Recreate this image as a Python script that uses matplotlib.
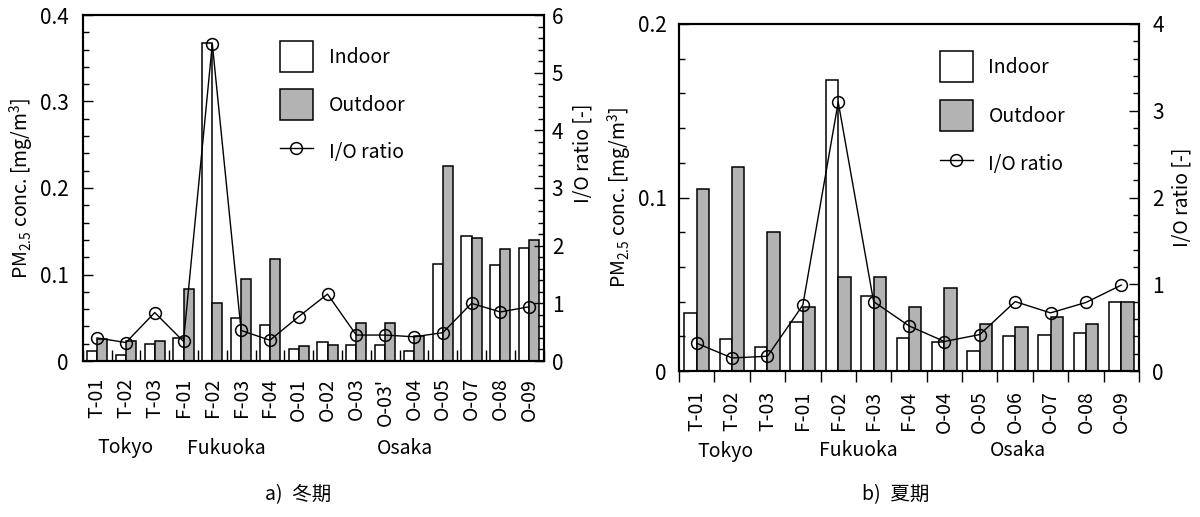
import numpy as np
import matplotlib
matplotlib.use('Agg')
import matplotlib.pyplot as plt
import matplotlib.transforms as mtransforms
from matplotlib.patches import Patch
from matplotlib.lines import Line2D
from matplotlib.ticker import MultipleLocator, FixedLocator, NullFormatter, FixedFormatter

plt.rcParams['font.family'] = ['Noto Sans CJK JP', 'DejaVu Sans']
plt.rcParams['mathtext.fontset'] = 'custom'
plt.rcParams['mathtext.rm'] = 'Noto Sans CJK JP'
plt.rcParams['mathtext.it'] = 'Noto Sans CJK JP'
plt.rcParams['mathtext.default'] = 'rm'

# winter (a)
winter_sites = ['T-01', 'T-02', 'T-03', 'F-01', 'F-02', 'F-03', 'F-04', 'O-01', 'O-02',
                'O-03', "O-03'", 'O-04', 'O-05', 'O-07', 'O-08', 'O-09']
winter_indoor = [0.011, 0.007, 0.020, 0.027, 0.368, 0.050, 0.042, 0.0135, 0.022,
                 0.019, 0.019, 0.012, 0.112, 0.144, 0.111, 0.131]
winter_outdoor = [0.025, 0.023, 0.023, 0.083, 0.067, 0.095, 0.118, 0.017, 0.019,
                  0.044, 0.044, 0.029, 0.225, 0.142, 0.129, 0.140]
winter_ratio = [0.40, 0.32, 0.84, 0.34, 5.50, 0.53, 0.36, 0.77, 1.16,
                0.45, 0.45, 0.42, 0.49, 1.00, 0.85, 0.94]
winter_groups = [('Tokyo', 1.0), ('Fukuoka', 4.5), ('Osaka', 10.7)]

# summer (b)
summer_sites = ['T-01', 'T-02', 'T-03', 'F-01', 'F-02', 'F-03', 'F-04', 'O-04', 'O-05',
                'O-06', 'O-07', 'O-08', 'O-09']
summer_indoor = [0.0333, 0.0187, 0.0139, 0.028, 0.1676, 0.0434, 0.019, 0.0166, 0.0116,
                 0.0204, 0.021, 0.0218, 0.040]
summer_outdoor = [0.105, 0.1175, 0.080, 0.0368, 0.054, 0.054, 0.0366, 0.048, 0.027,
                  0.0254, 0.031, 0.027, 0.040]
summer_ratio = [0.32, 0.15, 0.17, 0.76, 3.10, 0.80, 0.52, 0.34, 0.42, 0.80, 0.67, 0.79, 0.99]
summer_groups = [('Tokyo', 0.8), ('Fukuoka', 4.58), ('Osaka', 9.08)]

GRAY = '#b3b3b3'
W = 0.35
FS = 14

fig = plt.figure(figsize=(12, 5.17), dpi=100)


def draw_panel(rect, sites, indoor, outdoor, ratio, groups, ymax, ymajor, rmax,
               xtick_dir, pads, legend_xy, legend_sp, rlabel_y, group_y, caption, caption_x):
    ax = fig.add_axes(rect)
    x = np.arange(len(sites))
    ax.bar(x - W / 2, indoor, W, color='white', edgecolor='black', linewidth=1.1)
    ax.bar(x + W / 2, outdoor, W, color=GRAY, edgecolor='black', linewidth=1.1)
    ax.set_xlim(-0.5, len(sites) - 0.5)
    ax.set_ylim(0, ymax)

    ax2 = ax.twinx()
    ax2.plot(x, ratio, '-o', color='black', linewidth=1.0, markersize=8.5,
             markerfacecolor='none', markeredgewidth=1.1)
    ax2.set_ylim(0, rmax)

    for a in (ax, ax2):
        for s in a.spines.values():
            s.set_linewidth(1.5)

    # y axes
    ax.yaxis.set_major_locator(MultipleLocator(ymajor))
    ax.yaxis.set_minor_locator(MultipleLocator(0.02))
    ax.yaxis.set_major_formatter(matplotlib.ticker.FuncFormatter(
        lambda v, p: '0' if v == 0 else f'{v:.1f}'))
    ax.tick_params(axis='y', which='major', direction='in', length=7, width=1.0,
                   labelsize=FS + 1, pad=pads[0])
    ax.tick_params(axis='y', which='minor', direction='in', length=4, width=1.0)
    ax2.yaxis.set_major_locator(MultipleLocator(1))
    ax2.yaxis.set_minor_locator(MultipleLocator(0.2))
    ax2.tick_params(axis='y', which='major', direction='in', length=7, width=1.0,
                    labelsize=FS + 1, pad=pads[1])
    ax2.tick_params(axis='y', which='minor', direction='in', length=4, width=1.0)

    # x axis: separators as major ticks, names on minor ticks
    ax.xaxis.set_major_locator(FixedLocator(np.arange(-0.5, len(sites), 1.0)))
    ax.xaxis.set_major_formatter(NullFormatter())
    ax.xaxis.set_minor_locator(FixedLocator(x))
    ax.xaxis.set_minor_formatter(FixedFormatter(sites))
    ax.tick_params(axis='x', which='major', direction=xtick_dir, length=8, width=1.0)
    ax.tick_params(axis='x', which='minor', length=0, labelsize=FS, pad=pads[2],
                   labelrotation=90)

    ax.set_ylabel('PM$_{2.5}$ conc. [mg/m$^3$]', fontsize=FS, va='center')
    ax.yaxis.set_label_coords(pads[3], 0.5)
    ax2.set_ylabel('I/O ratio [-]', fontsize=FS, va='center')
    ax2.yaxis.set_label_coords(pads[4], rlabel_y)

    handles = [Patch(facecolor='white', edgecolor='black', linewidth=1.1),
               Patch(facecolor=GRAY, edgecolor='black', linewidth=1.1),
               Line2D([], [], color='black', marker='o', markerfacecolor='none',
                      markersize=8.5, linewidth=1.0, markeredgewidth=1.1)]
    ax2.legend(handles, ['Indoor', 'Outdoor', 'I/O ratio'], loc='upper left',
               bbox_to_anchor=legend_xy, frameon=False, fontsize=FS,
               handlelength=1.7, handleheight=2.1, handletextpad=0.8,
               labelspacing=legend_sp, borderpad=0, borderaxespad=0)

    trans = mtransforms.blended_transform_factory(ax.transData, fig.transFigure)
    for name, gx in groups:
        ax.text(gx, group_y, name, transform=trans, ha='center', va='center',
                fontsize=FS)
    fig.text(caption_x, 1 - 495 / 517, caption, ha='center', va='center', fontsize=FS)
    return ax, ax2


draw_panel([82.7 / 1200, 1 - 361 / 517, 460.8 / 1200, 346 / 517],
           winter_sites, winter_indoor, winter_outdoor, winter_ratio, winter_groups,
           0.4, 0.1, 6, 'in', (10, 6, 12, -0.133, 1.086), (0.428, 0.925), 0.85, 0.601,
           1 - 448 / 517, 'a)\u2002冬期', 298 / 1200)

draw_panel([679 / 1200, 1 - 371 / 517, 460 / 1200, 347 / 517],
           summer_sites, summer_indoor, summer_outdoor, summer_ratio, summer_groups,
           0.2, 0.1, 4, 'out', (9, 9.5, 14, -0.130, 1.093), (0.567, 0.922), 0.9, 0.5,
           1 - 451 / 517, 'b)\u2002夏期', 896 / 1200)

fig.savefig('out.png', dpi=100)
